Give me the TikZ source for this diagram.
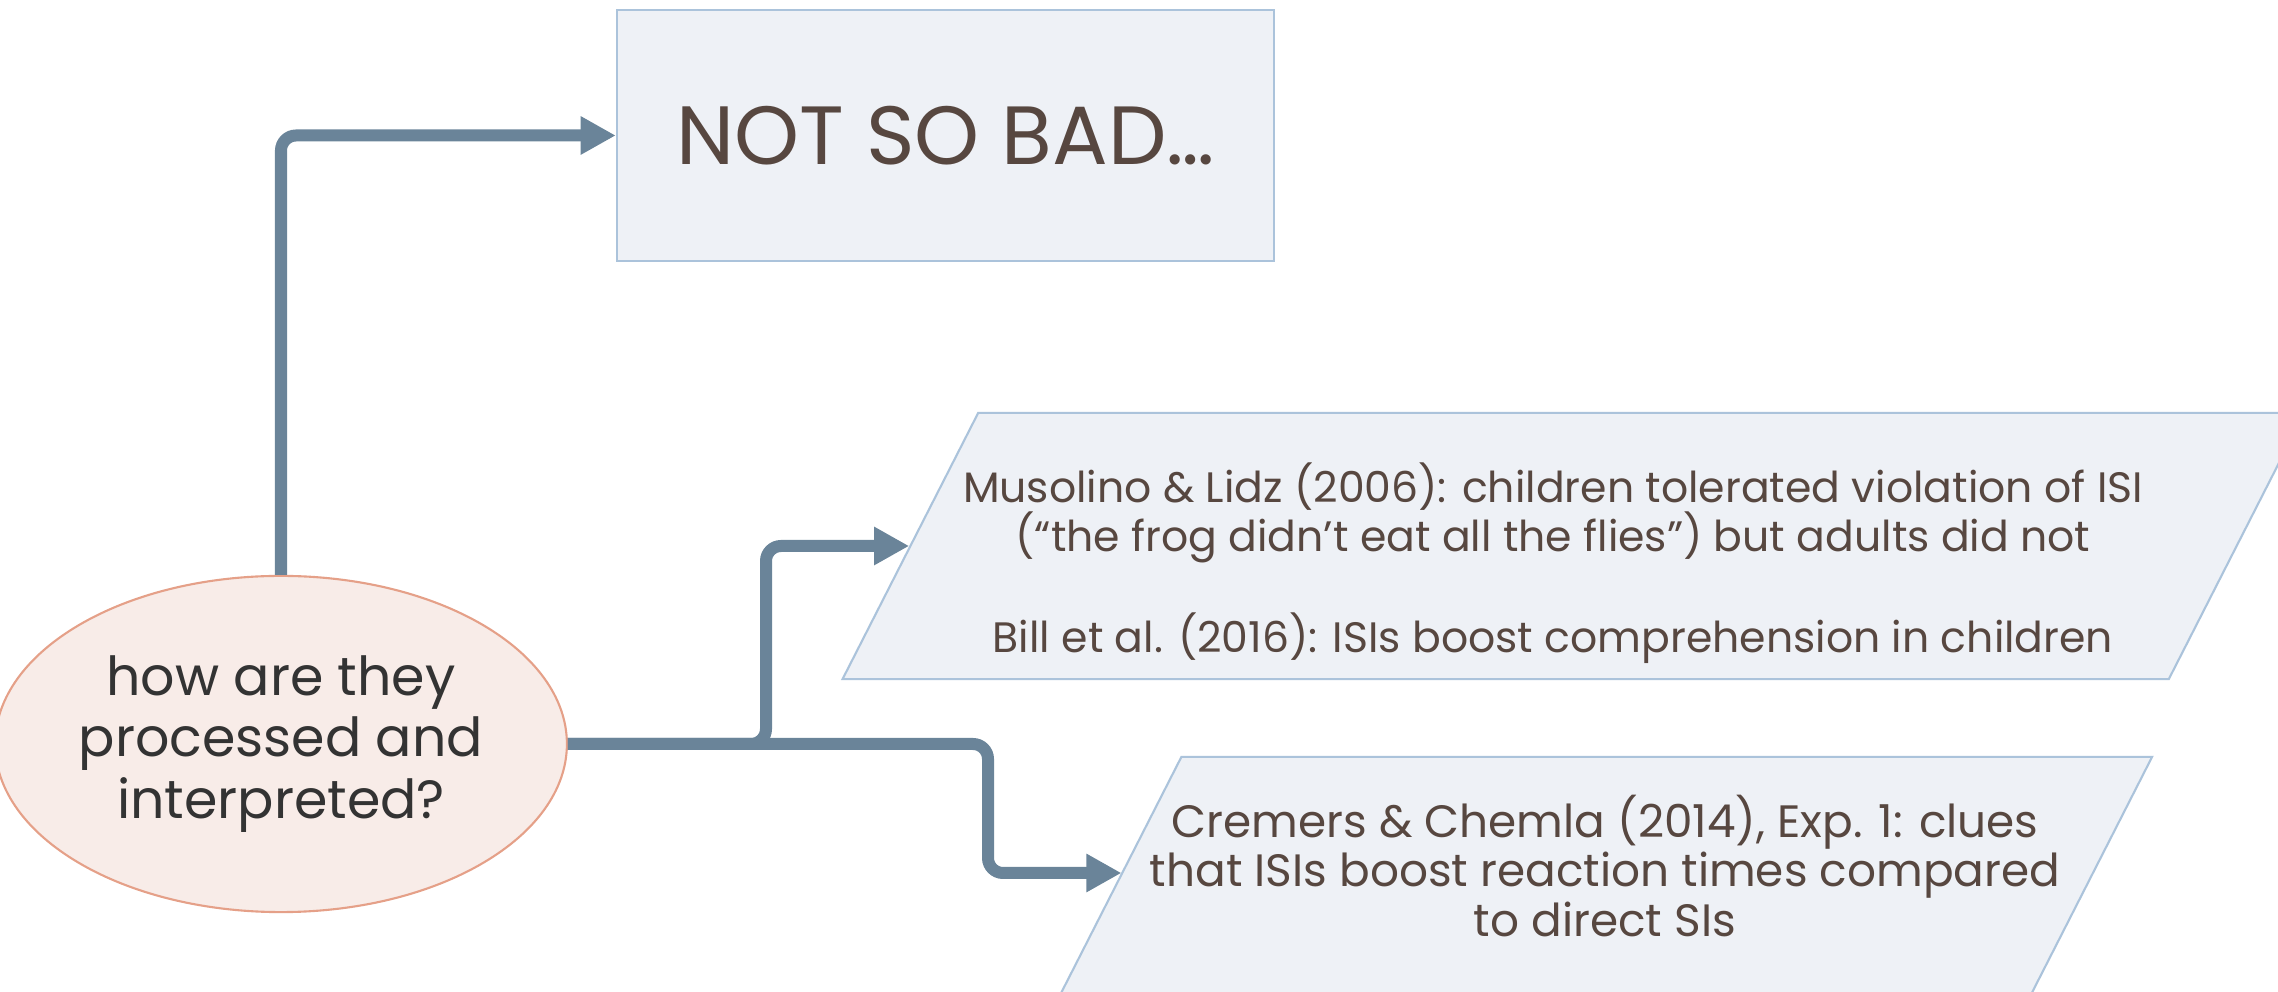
\documentclass[tikz,border=0pt]{standalone}
\usepackage{fontspec}
\setmainfont{Poppins}
\usepackage{tikz}
\usetikzlibrary{arrows, arrows.meta, positioning, shapes.geometric}
\usepackage{xcolor}
\definecolor{flowgray}{HTML}{6A8499}
\definecolor{boxfill}{HTML}{EEF1F6}
\definecolor{boxline}{HTML}{ABC3DB}
\definecolor{qfill}{HTML}{F8ECE8}
\definecolor{qline}{HTML}{E5A088}
\definecolor{textbrown}{HTML}{574740}
\definecolor{textdark}{HTML}{333333}

\begin{document}
\begin{tikzpicture}[x=0.01cm, y=-0.01cm, ->, >={Triangle[length=0.35cm, width=0.36cm]}]
    \tikzstyle{flow} = [draw=flowgray, line width=0.12cm, rounded corners=0.15cm]
    \tikzstyle{question} = [ellipse, draw=qline, fill=qfill, line width=0.6pt, text=textdark, align=center, inner sep=0pt, minimum width=5.68cm, minimum height=3.36cm, font=\fontsize{15.3}{17.6}\selectfont]
    \tikzstyle{result} = [rectangle, draw=boxline, fill=boxfill, line width=0.6pt, text=textbrown, minimum width=6.57cm, minimum height=2.51cm, font=\fontsize{23.5}{27}\selectfont]
    \tikzstyle{study} = [trapezium, trapezium left angle=63, trapezium right angle=117, trapezium stretches body, draw=boxline, fill=boxfill, line width=0.6pt, inner xsep=0pt]
    \tikzstyle{studytext} = [text=textbrown, align=center]
    \useasboundingbox (0,0) rectangle (2278,992);
    \clip (0,0) rectangle (2278,992);
    \node [question] at (281,744) (q) {how are they\\processed and\\interpreted?};
    \node [result] at (945.5,135.5) (notbad) {NOT SO BAD…};
    % study boxes, text set separately
    \node [study, minimum width=14.61cm, inner ysep=1.33cm] at (1573.5,546) (isi) {};
    \node [studytext, font=\fontsize{12.1}{14}\selectfont] at (1553,563) (isitext) {Musolino \& Lidz (2006): children tolerated violation of ISI\\(“the frog didn’t eat all the flies”) but adults did not\\[13pt]Bill et al. (2016): ISIs boost comprehension in children};
    \node [study, minimum width=10.975cm, inner ysep=1.25cm] at (1603,882) (clues) {};
    \node [studytext, font=\fontsize{12.9}{14.1}\selectfont] at (1605,866) (cluestext) {Cremers \& Chemla (2014), Exp. 1: clues\\that ISIs boost reaction times compared\\to direct SIs};
    \coordinate (fork) at (766,744);
    \coordinate (drop) at (988,744);
    \draw[flow] (q.north) |- (notbad.west);
    \draw[flow] (q.east) -- (fork) |- (isi.west);
    \draw[flow] (q.east) -- (drop) |- ([yshift=0.09cm, xshift=0.05cm]clues.west);
\end{tikzpicture}
\end{document}
